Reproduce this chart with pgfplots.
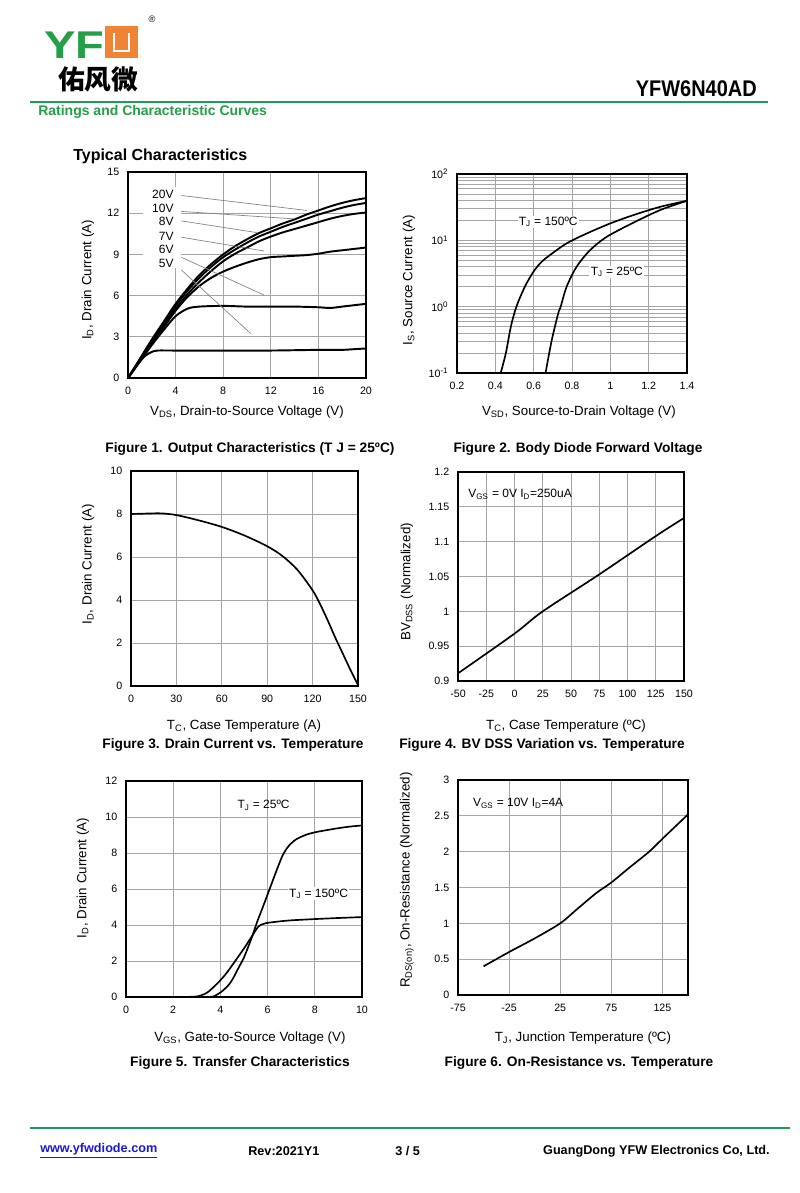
\documentclass[border=0pt]{standalone}
\usepackage{fontspec}
\setmainfont{Liberation Sans}
\newfontfamily\cjk{Noto Sans CJK SC}
\usepackage{graphicx}
\usepackage{xcolor}
\usepackage{pgfplots}
\pgfplotsset{compat=1.18}
\definecolor{yfwgreen}{RGB}{38,158,72}
\definecolor{linegreen}{RGB}{30,155,85}
\definecolor{yfworange}{RGB}{238,132,52}
\definecolor{gridgray}{RGB}{165,165,165}
\definecolor{leadgray}{RGB}{130,130,130}
\definecolor{linkblue}{RGB}{25,25,205}

\pgfplotsset{
  ds/.style={
    scale only axis, anchor=north west,
    axis line style={line width=1.3pt},
    grid=major, major grid style={gridgray, line width=0.6pt},
    major tick length=0pt, minor tick length=0pt,
    tick label style={font=\fontsize{8}{9.5}\selectfont},
    xticklabel style={yshift=-3pt},
    yticklabel style={xshift=-3pt},
    /pgf/number format/assume math mode=true,
    label style={font=\fontsize{10}{12}\selectfont},
  },
  crv/.style={black, solid, line width=1.25pt, no marks, smooth},
  crvthick/.style={black, solid, line width=1.45pt, no marks, smooth},
}

\begin{document}
\begin{tikzpicture}
\begin{scope}[x=0.75pt, y=-0.75pt]
  \fill[white] (0,0) rectangle (800,1193);
  \path[use as bounding box] (0,0) rectangle (800,1193);
  % axis anchors (top-left corners, in pixels of the page)
  \coordinate (A1) at (128,172);
  \coordinate (A2) at (457,174);
  \coordinate (A3) at (131,471);
  \coordinate (A4) at (458,472);
  \coordinate (A5) at (126,781);
  \coordinate (A6) at (458,780);

  % header
  \node[anchor=base west, inner sep=0, text=yfwgreen, font=\fontsize{29}{30}\selectfont\bfseries] at (44,58) {\scalebox{1.22}[1]{YF}};
  \fill[yfworange] (105,26) rectangle (138,58);
  \draw[white, line width=1.6pt] (114,33) -- (114,51) -- (129,51) -- (129,33);
  \node[font=\fontsize{7}{8}\selectfont] at (152,19) {®};
  \node[font=\cjk\fontsize{20}{22}\selectfont\bfseries] at (98,79) {佑风微};
  \node[anchor=base east, inner sep=0, font=\fontsize{17}{18}\selectfont\bfseries] at (757,96) {\scalebox{0.88}[1]{YFW6N40AD}};
  \draw[linegreen, line width=1.5pt] (30,101.5) -- (768,101.5);
  \node[anchor=west, inner sep=0, text=yfwgreen, font=\fontsize{10.5}{12}\selectfont\bfseries] at (38,112) {Ratings and Characteristic Curves};
  \node[anchor=west, inner sep=0, font=\fontsize{12}{14}\selectfont\bfseries] at (73,156) {Typical Characteristics};

  % captions
  \begin{scope}[every node/.style={font=\fontsize{10.3}{12}\selectfont\bfseries, inner sep=0}]
    \node at (250,449) {Figure 1. Output Characteristics (T J = 25ºC)};
    \node at (578,449) {Figure 2. Body Diode Forward Voltage};
    \node at (233,745) {Figure 3. Drain Current vs. Temperature};
    \node at (542,745) {Figure 4. BV DSS Variation vs. Temperature};
    \node at (240,1063) {Figure 5. Transfer Characteristics};
    \node at (579,1063) {Figure 6. On-Resistance vs. Temperature};
  \end{scope}

  % footer
  \draw[linegreen, line width=1.5pt] (30,1128) -- (790,1128);
  \begin{scope}[every node/.style={font=\fontsize{9.5}{11}\selectfont\bfseries, inner sep=0}]
    \node[anchor=west, text=linkblue] at (40,1151) {\underline{www.yfwdiode.com}};
    \node[anchor=west] at (248,1151) {Rev:2021Y1};
    \node[anchor=west] at (395,1151) {3 / 5};
    \node[anchor=east] at (770,1151) {GuangDong YFW Electronics Co, Ltd.};
  \end{scope}
\end{scope}

% Figure 1 -- output characteristics
\begin{axis}[ds, at={(A1)}, width=178.5pt, height=154.5pt,
  xmin=0, xmax=20, ymin=0, ymax=15,
  xtick={0,4,8,12,16,20}, ytick={0,3,6,9,12,15},
  xlabel={V\textsubscript{DS}, Drain-to-Source Voltage (V)},
  ylabel={I\textsubscript{D}, Drain Current (A)},
  xlabel style={at={(axis description cs:0.5,-0.165)}, anchor=center},
  ylabel style={at={(axis description cs:-0.168,0.476)}, anchor=center}]
\fill[white] (1.3,8.0) rectangle (4.45,13.9);
\addplot[crvthick] coordinates {(0,0) (1,1.4) (2,2.8) (3,4.1) (4,5.4) (5,6.5) (6,7.5) (7,8.3) (8,9.0) (9,9.6) (10,10.1) (11,10.55) (12,10.9) (13,11.25) (14,11.55) (15,11.9) (16,12.2) (17,12.5) (18,12.75) (19,12.95) (20,13.1)};
\addplot[crvthick] coordinates {(0,0) (1,1.35) (2,2.7) (3,4.0) (4,5.25) (5,6.35) (6,7.3) (7,8.1) (8,8.8) (9,9.35) (10,9.85) (11,10.3) (12,10.65) (13,11.0) (14,11.3) (15,11.6) (16,11.9) (17,12.15) (18,12.4) (19,12.6) (20,12.75)};
\addplot[crvthick] coordinates {(0,0) (1,1.3) (2,2.6) (3,3.85) (4,5.05) (5,6.1) (6,7.0) (7,7.8) (8,8.5) (9,9.05) (10,9.5) (11,9.95) (12,10.3) (13,10.6) (14,10.85) (15,11.1) (16,11.35) (17,11.6) (18,11.8) (19,11.95) (20,12.05)};
\addplot[crvthick] coordinates {(0,0) (1,1.25) (2,2.5) (3,3.7) (4,4.9) (5,5.9) (6,6.7) (7,7.3) (8,7.75) (9,8.1) (10,8.4) (11,8.65) (12,8.8) (13,8.85) (14,8.9) (15,8.95) (16,9.05) (17,9.2) (18,9.3) (19,9.4) (20,9.5)};
\addplot[crvthick] coordinates {(0,0) (1,1.2) (2,2.4) (3,3.5) (4,4.5) (5,5.05) (6,5.2) (8,5.25) (10,5.2) (12,5.2) (14,5.2) (16,5.15) (17,5.1) (18,5.2) (19,5.3) (20,5.4)};
\addplot[crvthick] coordinates {(0,0) (0.5,0.6) (1,1.2) (1.5,1.65) (2,1.9) (2.5,2.0) (4,2.0) (8,2.0) (12,2.0) (16,2.05) (18,2.05) (19,2.1) (20,2.15)};
\begin{scope}[leadgray, line width=0.5pt]
  \draw (4.49,13.29) -- (15.03,12.2);
  \draw (4.49,12.13) -- (13.9,11.59);
  \draw (4.49,11.44) -- (10.81,10.59);
  \draw (4.49,10.25) -- (11.43,9.25);
  \draw (4.49,8.79) -- (11.43,6.04);
  \draw (4.49,7.86) -- (10.31,3.24);
\end{scope}
\begin{scope}[every node/.style={anchor=east, inner sep=0, font=\fontsize{9}{10}\selectfont}]
  \node at (3.85,13.39) {20V};
  \node at (3.85,12.37) {10V};
  \node at (3.85,11.40) {8V};
  \node at (3.85,10.34) {7V};
  \node at (3.85,9.37) {6V};
  \node at (3.85,8.35) {5V};
\end{scope}
\end{axis}

% Figure 2 -- body diode forward voltage
\begin{axis}[ds, at={(A2)}, width=172.5pt, height=149.25pt,
  ymode=log, xmin=0.2, xmax=1.4, ymin=0.1, ymax=100,
  grid=both, minor grid style={gridgray, line width=0.45pt},
  xtick={0.2,0.4,0.6,0.8,1,1.2,1.4},
  ytick={0.1,1,10,100},
  yticklabels={10\textsuperscript{-1},10\textsuperscript{0},10\textsuperscript{1},10\textsuperscript{2}},
  xlabel={V\textsubscript{SD}, Source-to-Drain Voltage (V)},
  ylabel={I\textsubscript{S}, Source Current (A)},
  xlabel style={at={(axis description cs:0.53,-0.196)}, anchor=center},
  ylabel style={at={(axis description cs:-0.209,0.467)}, anchor=center}]
\addplot[crv] coordinates {(0.428,0.1) (0.455,0.2) (0.481,0.5) (0.51,1.0) (0.554,2.0) (0.6,3.4) (0.64,4.7) (0.685,6.0) (0.772,9.0) (0.877,12.7) (1.0,18) (1.12,24) (1.26,32) (1.4,39.5)};
\addplot[crv] coordinates {(0.662,0.1) (0.694,0.31) (0.728,0.79) (0.741,1.0) (0.772,2.0) (0.824,4.0) (0.894,7.1) (0.981,11.3) (1.121,18.5) (1.26,28.6) (1.4,39.5)};
\node[fill=white, inner sep=1pt, font=\fontsize{9}{10}\selectfont] at (0.676,19) {T\textsubscript{J} = 150ºC};
\node[fill=white, inner sep=1pt, font=\fontsize{9}{10}\selectfont] at (1.034,3.35) {T\textsubscript{J} = 25ºC};
\end{axis}

% Figure 3 -- drain current vs temperature
\begin{axis}[ds, at={(A3)}, width=170.25pt, height=161.25pt,
  xmin=0, xmax=150, ymin=0, ymax=10,
  xtick={0,30,60,90,120,150}, ytick={0,2,4,6,8,10},
  xlabel={T\textsubscript{C}, Case Temperature (A)},
  ylabel={I\textsubscript{D}, Drain Current (A)},
  xlabel style={at={(axis description cs:0.498,-0.186)}, anchor=center},
  ylabel style={at={(axis description cs:-0.189,0.567)}, anchor=center}]
\addplot[crv] coordinates {(0,8.0) (10,8.02) (20,8.03) (30,7.95) (45,7.7) (60,7.4) (75,7.0) (90,6.5) (100,6.05) (110,5.4) (120,4.45) (125,3.8) (130,3.05) (135,2.25) (140,1.5) (145,0.75) (150,0.05)};
\end{axis}

% Figure 4 -- BVDSS vs temperature
\begin{axis}[ds, at={(A4)}, width=169.5pt, height=156.75pt,
  xmin=-50, xmax=150, ymin=0.9, ymax=1.2,
  xtick={-50,-25,0,25,50,75,100,125,150},
  ytick={0.9,0.95,1,1.05,1.1,1.15,1.2},
  yticklabels={0.9,0.95,1,1.05,1.1,1.15,1.2},
  xlabel={T\textsubscript{C}, Case Temperature (ºC)},
  ylabel={BV\textsubscript{DSS} (Normalized)},
  xlabel style={at={(axis description cs:0.478,-0.215)}, anchor=center},
  ylabel style={at={(axis description cs:-0.226,0.474)}, anchor=center}]
\addplot[crv] coordinates {(-50,0.911) (0,0.968) (25,1.0) (75,1.053) (125,1.108) (150,1.134)};
\node[anchor=west, inner sep=0, font=\fontsize{9}{10}\selectfont] at (-41,1.168) {V\textsubscript{GS} = 0V I\textsubscript{D}=250uA};
\end{axis}

% Figure 5 -- transfer characteristics
\begin{axis}[ds, at={(A5)}, width=177pt, height=162pt,
  xmin=0, xmax=10, ymin=0, ymax=12,
  xtick={0,2,4,6,8,10}, ytick={0,2,4,6,8,10,12},
  xlabel={V\textsubscript{GS}, Gate-to-Source Voltage (V)},
  ylabel={I\textsubscript{D}, Drain Current (A)},
  xlabel style={at={(axis description cs:0.525,-0.19)}, anchor=center},
  ylabel style={at={(axis description cs:-0.182,0.551)}, anchor=center}]
\addplot[crv] coordinates {(0,0) (1,0) (2,0) (3,0) (3.5,0) (3.7,0.03) (4.0,0.25) (4.3,0.6) (4.5,0.95) (4.8,1.7) (5.0,2.2) (5.3,3.2) (5.55,4.15) (5.8,5.0) (6.1,6.05) (6.4,7.1) (6.65,7.9) (6.9,8.4) (7.2,8.75) (7.6,9.0) (8.0,9.15) (8.5,9.27) (9.0,9.38) (9.5,9.47) (10,9.53)};
\addplot[crv] coordinates {(0,0) (2,0) (2.9,0.02) (3.2,0.1) (3.5,0.3) (4.0,0.93) (4.3,1.4) (4.6,1.95) (5.0,2.7) (5.3,3.3) (5.6,3.9) (5.8,4.05) (6.0,4.12) (6.5,4.2) (7,4.26) (8,4.33) (9,4.39) (10,4.44)};
\node[inner sep=1pt, font=\fontsize{9}{10}\selectfont] at (5.83,10.65) {T\textsubscript{J} = 25ºC};
\node[fill=white, inner sep=1pt, font=\fontsize{9}{10}\selectfont] at (8.16,5.74) {T\textsubscript{J} = 150ºC};
\end{axis}

% Figure 6 -- on-resistance vs temperature
\begin{axis}[ds, at={(A6)}, width=172.5pt, height=161.25pt,
  xmin=-75, xmax=150, ymin=0, ymax=3,
  xtick={-75,-25,25,75,125}, ytick={0,0.5,1,1.5,2,2.5,3},
  xlabel={T\textsubscript{J}, Junction Temperature (ºC)},
  ylabel={R\textsubscript{DS(on)}, On-Resistance (Normalized)},
  xlabel style={at={(axis description cs:0.543,-0.2)}, anchor=center},
  ylabel style={at={(axis description cs:-0.222,0.535)}, anchor=center}]
\addplot[crv] coordinates {(-50,0.4) (-25,0.6) (0,0.79) (25,1.0) (40,1.18) (60,1.42) (75,1.57) (92,1.77) (112,2.0) (125,2.18) (150,2.52)};
\node[anchor=west, inner sep=0, font=\fontsize{9}{10}\selectfont] at (-60.4,2.674) {V\textsubscript{GS} = 10V I\textsubscript{D}=4A};
\end{axis}
\end{tikzpicture}
\end{document}
